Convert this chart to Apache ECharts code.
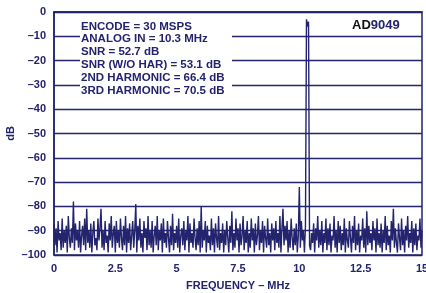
<!DOCTYPE html>
<html>
<head>
<meta charset="utf-8">
<script src="https://cdn.jsdelivr.net/npm/echarts@6/dist/echarts.min.js"></script>
<style>
  html, body { margin: 0; padding: 0; background: #fff; }
  #chart { width: 426px; height: 293px; }
</style>
</head>
<body>
<div id="chart"></div>
<script>
// FFT spectrum, 1/24 MHz per bin, 0 .. 15 MHz (one row = 1 MHz)
const binStep = 1 / 24;
const spectrumDb = [
  -87, -96, -89, -99, -86, -94, -91, -98, -85, -97, -90, -95, -88, -99, -84, -93, -97, -89, -95, -78, -98, -87, -94, -90,
  -97, -86, -99, -92, -88, -96, -85, -98, -81, -95, -90, -97, -87, -99, -91, -86, -96, -93, -98, -85, -94, -89, -81, -97,
  -90, -98, -86, -95, -92, -99, -87, -94, -84, -97, -91, -88, -99, -86, -95, -90, -97, -85, -93, -98, -88, -96, -84, -99,
  -89, -95, -87, -98, -92, -86, -97, -90, -79, -99, -88, -94, -85, -97, -91, -99, -86, -93, -89, -98, -84, -96, -90, -97,
  -86, -99, -92, -88, -96, -84, -98, -90, -94, -87, -99, -85, -95, -91, -97, -86, -93, -99, -88, -96, -83, -98, -91, -95,
  -88, -97, -85, -99, -92, -89, -96, -86, -98, -90, -94, -84, -99, -87, -95, -91, -97, -85, -93, -98, -89, -96, -86, -99,
  -80, -97, -90, -94, -86, -99, -88, -95, -92, -98, -85, -96, -89, -99, -87, -93, -97, -84, -98, -91, -95, -87, -99, -90,
  -96, -86, -93, -99, -88, -95, -82, -98, -91, -97, -85, -94, -89, -99, -87, -96, -92, -84, -98, -90, -95, -86, -99, -91,
  -97, -85, -94, -89, -99, -87, -96, -92, -84, -98, -90, -95, -86, -99, -88, -93, -97, -85, -96, -91, -99, -87, -94, -89,
  -98, -86, -95, -91, -97, -84, -99, -89, -81, -96, -88, -94, -86, -99, -90, -97, -85, -93, -98, -89, -96, -87, -99, -92,
  -72, -97, -86, -94, -90, -99, -88, -3, -6, -4, -96, -98, -91, -95, -87, -99, -89, -94, -84, -97, -90, -96, -86, -99,
  -91, -95, -85, -98, -89, -96, -87, -99, -92, -94, -84, -97, -90, -99, -86, -95, -88, -98, -91, -96, -85, -99, -89, -94,
  -97, -86, -93, -99, -88, -95, -84, -98, -90, -96, -87, -99, -92, -94, -85, -97, -89, -99, -82, -96, -88, -95, -91, -98,
  -86, -94, -89, -99, -85, -96, -91, -97, -87, -99, -90, -95, -84, -98, -88, -96, -92, -99, -86, -94, -81, -97, -89, -95,
  -99, -87, -93, -98, -85, -96, -90, -99, -88, -94, -84, -97, -91, -95, -86, -99, -89, -96, -87, -98, -92, -94, -85, -97,
  -90
];
const xTicks = [0, 2.5, 5, 7.5, 10, 12.5, 15];
const infoLines = [
  'ENCODE = 30 MSPS',
  'ANALOG IN = 10.3 MHz',
  'SNR = 52.7 dB',
  'SNR (W/O HAR) = 53.1 dB',
  '2ND HARMONIC = 66.4 dB',
  '3RD HARMONIC = 70.5 dB'
];

const NAVY = '#23236e';
const seriesData = spectrumDb.map((v, i) => [i * binStep, v]);

const chart = echarts.init(document.getElementById('chart'));
chart.setOption({
  backgroundColor: '#fff',
  animation: false,
  grid: {
    left: 54, right: 4, top: 12, bottom: 38,
    outerBoundsMode: 'none',
    show: true, borderColor: NAVY, borderWidth: 1.5
  },
  xAxis: {
    type: 'value', min: 0, max: 15, interval: 2.5,
    name: 'FREQUENCY – MHz', nameLocation: 'middle', nameGap: 25,
    nameTextStyle: { color: NAVY, fontWeight: 'bold', fontSize: 11, fontFamily: 'Liberation Sans' },
    axisLine: { lineStyle: { color: NAVY, width: 1.5 } },
    axisTick: { show: false },
    splitLine: { show: false },
    axisLabel: {
      color: NAVY, fontWeight: 'bold', fontSize: 11, fontFamily: 'Liberation Sans', margin: 8,
      formatter: v => xTicks.includes(v) ? String(v) : ''
    }
  },
  yAxis: {
    type: 'value', min: -100, max: 0, interval: 10,
    name: 'dB', nameLocation: 'middle', nameGap: 38, nameMoveOverlap: false,
    nameTextStyle: { color: NAVY, fontWeight: 'bold', fontSize: 11, fontFamily: 'Liberation Sans' },
    axisLine: { show: true, lineStyle: { color: NAVY, width: 1.5 } },
    axisTick: { show: false },
    splitLine: { lineStyle: { color: NAVY, width: 1.3 } },
    axisLabel: {
      color: NAVY, fontWeight: 'bold', fontSize: 11, fontFamily: 'Liberation Sans', margin: 8,
      formatter: v => v === 0 ? '0' : '–' + Math.abs(v)
    }
  },
  graphic: [
    {
      type: 'rect', z: 50, left: 80, top: 15,
      shape: { width: 152, height: 85 },
      style: { fill: '#fff' }
    },
    {
      type: 'text', z: 51, left: 81, top: 20,
      style: {
        text: infoLines.join('\n'),
        fill: NAVY, font: 'bold 11.5px "Liberation Sans"', lineHeight: 12.8
      }
    },
    {
      type: 'text', z: 51, left: 352, top: 19,
      style: {
        text: '{a|AD}{b|9049}',
        rich: {
          a: { fill: '#111', font: 'bold 13px "Liberation Sans"' },
          b: { fill: NAVY, font: 'bold 13px "Liberation Sans"' }
        }
      }
    }
  ],
  series: [{
    type: 'line',
    data: seriesData,
    showSymbol: false,
    lineStyle: { color: NAVY, width: 1.4 },
    z: 3
  }]
});
</script>
</body>
</html>
